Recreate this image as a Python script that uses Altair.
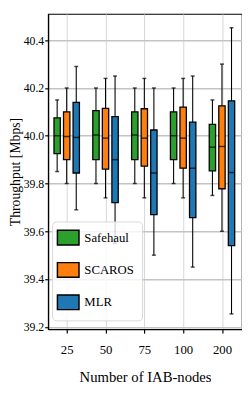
import altair as alt
import pandas as pd

groups = ["25", "50", "75", "100", "200"]
methods = ["Safehaul", "SCAROS", "MLR"]
colors = ["#2ca02c", "#ff7f0e", "#1f77b4"]
method_offset = [-0.246, 0.0, 0.246]

safehaul_low = [39.85, 39.80, 39.80, 39.80, 39.75]
safehaul_q1 = [39.925, 39.90, 39.90, 39.90, 39.853]
safehaul_med = [40.00, 40.003, 40.003, 40.00, 39.952]
safehaul_q3 = [40.075, 40.105, 40.10, 40.10, 40.048]
safehaul_high = [40.15, 40.20, 40.20, 40.20, 40.15]

scaros_low = [39.80, 39.74, 39.74, 39.74, 39.60]
scaros_q1 = [39.90, 39.86, 39.873, 39.864, 39.778]
scaros_med = [39.997, 39.99, 39.99, 39.99, 39.955]
scaros_q3 = [40.10, 40.115, 40.113, 40.12, 40.125]
scaros_high = [40.20, 40.24, 40.24, 40.24, 40.30]

mlr_low = [39.69, 39.55, 39.50, 39.45, 39.254]
mlr_q1 = [39.844, 39.72, 39.67, 39.657, 39.54]
mlr_med = [39.993, 39.90, 39.844, 39.864, 39.846]
mlr_q3 = [40.14, 40.08, 40.024, 40.057, 40.146]
mlr_high = [40.29, 40.25, 40.20, 40.25, 40.452]

stats = {
    "Safehaul": (safehaul_low, safehaul_q1, safehaul_med, safehaul_q3, safehaul_high),
    "SCAROS": (scaros_low, scaros_q1, scaros_med, scaros_q3, scaros_high),
    "MLR": (mlr_low, mlr_q1, mlr_med, mlr_q3, mlr_high),
}

rows = []
for mi, m in enumerate(methods):
    lo, q1, med, q3, hi = stats[m]
    for gi, g in enumerate(groups):
        rows.append({
            "group": g, "method": m, "pos": gi + method_offset[mi],
            "low": lo[gi], "q1": q1[gi], "med": med[gi], "q3": q3[gi], "high": hi[gi],
        })
df = pd.DataFrame(rows)

FONT = "Liberation Serif"

label_expr = "[" + ",".join(f"'{g}'" for g in groups) + "][datum.value]"

x = alt.X("pos:Q",
          scale=alt.Scale(domain=[-0.352, 4.39], nice=False, zero=False),
          axis=alt.Axis(values=list(range(len(groups))), labelExpr=label_expr,
                        title="Number of IAB-nodes", grid=True, gridColor="#d6d6d6",
                        gridWidth=1, labelFont=FONT, titleFont=FONT,
                        labelFontSize=13, titleFontSize=15,
                        labelPadding=11, titlePadding=13, tickSize=4,
                        titleFontWeight="normal"))
y_scale = alt.Scale(domain=[39.19, 40.51], nice=False, zero=False)
y_axis = alt.Axis(values=[39.2, 39.4, 39.6, 39.8, 40.0, 40.2, 40.4], format=".1f",
                  title="Throughput [Mbps]", grid=True, gridColor="#c4c4c4",
                  gridWidth=1.5, labelFont=FONT, titleFont=FONT,
                  labelFontSize=12, titleFontSize=14,
                  labelPadding=1, titlePadding=1, tickSize=3.5,
                  titleFontWeight="normal")

base = alt.Chart(df)

whisk = base.mark_rule(color="black", strokeWidth=1.1).encode(
    x=x, y=alt.Y("low:Q", scale=y_scale, axis=y_axis), y2="high:Q")

caps_lo = base.mark_tick(orient="horizontal", color="black", size=4, thickness=1.5).encode(
    x="pos:Q", y="low:Q")
caps_hi = base.mark_tick(orient="horizontal", color="black", size=4, thickness=1.5).encode(
    x="pos:Q", y="high:Q")

boxes = base.mark_bar(size=6.5, stroke="black", strokeWidth=1.3, opacity=1).encode(
    x="pos:Q", y="q1:Q", y2="q3:Q",
    color=alt.Color("method:N",
                    scale=alt.Scale(domain=methods, range=colors),
                    sort=methods,
                    legend=alt.Legend(title=None, orient="none", legendX=4, legendY=212,
                                      symbolType="M-1.47,-1L1.47,-1L1.47,1L-1.47,1Z",
                                      symbolSize=225, symbolStrokeColor="black",
                                      symbolStrokeWidth=1.5, symbolOpacity=1,
                                      labelFontSize=13, labelFont=FONT,
                                      labelOffset=8, rowPadding=12, padding=8,
                                      fillColor="rgba(255,255,255,0.8)",
                                      strokeColor="#d8d8d8", cornerRadius=4)))

meds = base.mark_tick(orient="horizontal", color="black", size=6.5, thickness=1.5).encode(
    x="pos:Q", y="med:Q")

chart = alt.layer(whisk, caps_lo, caps_hi, boxes, meds).properties(
    width=198, height=322,
    padding={"left": 0, "top": 2, "right": 0, "bottom": 0},
).configure_view(stroke="black", strokeWidth=1.2).configure_axis(
    labelFont=FONT, titleFont=FONT, labelColor="black", titleColor="black",
    domainColor="black", tickColor="black", domainWidth=1.2, tickWidth=1.2,
).configure_legend(labelFont=FONT, labelColor="black")

chart.save("out.html", embed_options={"renderer": "svg", "actions": False})
